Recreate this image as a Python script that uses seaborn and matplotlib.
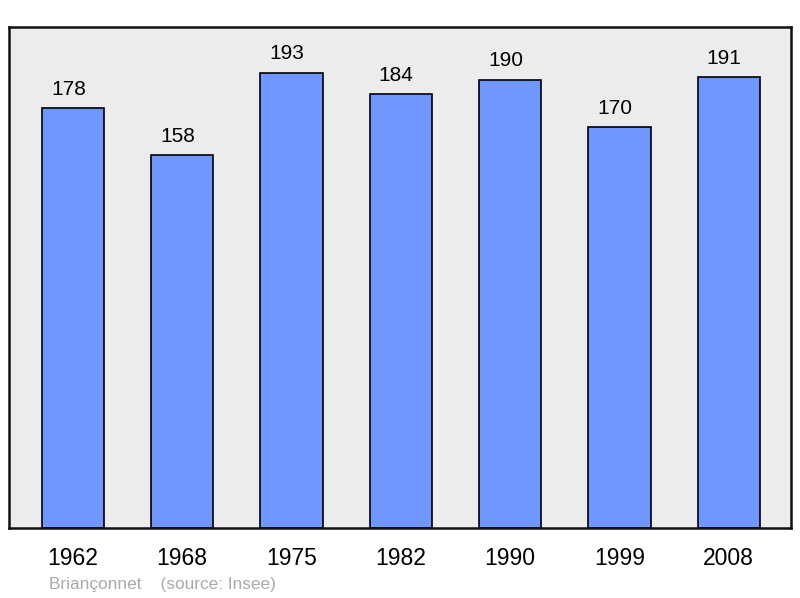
import matplotlib
matplotlib.use("Agg")
import matplotlib.pyplot as plt
import seaborn as sns
import pandas as pd

years = ["1962", "1968", "1975", "1982", "1990", "1999", "2008"]
population = [178, 158, 193, 184, 190, 170, 191]

sns.set_style("white")
plt.rcParams['font.family'] = ['Liberation Sans', 'DejaVu Sans']
plt.rcParams['text.color'] = 'black'

df = pd.DataFrame({"year": years, "pop": population})

fig = plt.figure(figsize=(8, 5.98), dpi=100)
ax = fig.add_axes([9/800, 1 - 528/598, 782/800, 501/598])
ax.set_facecolor("#ECECEC")

sns.barplot(data=df, x="year", y="pop", color="#7096FF", width=0.57,
            edgecolor="black", linewidth=1.2, saturation=1, ax=ax)

ax.set_xlim(-0.585, 6.57)
ax.set_ylim(0, 212.3)
ax.set_yticks([])
ax.set_xlabel("")
ax.set_ylabel("")
ax.tick_params(axis="x", length=0, labelsize=16.5, pad=14, colors="black")
for s in ax.spines.values():
    s.set_linewidth(1.8)
    s.set_color("#111111")

for i, v in enumerate(population):
    ax.annotate(str(v), (i, v), xytext=(-3.3, 9.5), textcoords="offset points",
                ha="center", va="baseline", fontsize=15, color="black")

fig.text(49/800, 1 - 584/598, "Briançonnet    (source: Insee)", color="#AAAAAA",
         fontsize=12.4, va="center", ha="left")

fig.savefig("out.png", dpi=100)
